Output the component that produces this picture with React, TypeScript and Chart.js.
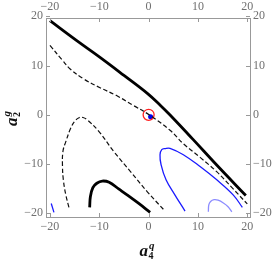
import React, { useEffect, useRef } from "react";
import { Chart, registerables } from "chart.js";

Chart.register(...registerables);

// axis ranges and tick values
const xRange = [-20.8, 20.55];
const yRange = [-20.75, 19.65];
const tickValues = [-20, -10, 0, 10, 20];

// thick black solid contour (upper)
const thickTopX = [-20, -14.5, -9.85, -5, -0.2, 2.4, 4.3, 9, 13.85, 19.7];
const thickTopY = [19.1, 15.0, 11.66, 8.0, 4.3, 1.9, 0, -5.0, -10.26, -16.4];

// thick black solid contour (lower arch)
const thickArchX = [-11.95, -11.8, -11.3, -10.5, -9.4, -8.0, -6.0, -4.3, -2.0, 0.3];
const thickArchY = [-18.8, -16.6, -14.8, -13.9, -13.45, -13.7, -15.1, -16.3, -18.0, -19.8];

// dashed contour (upper)
const dashTopX = [-20, -17.5, -15.9, -13.2, -9.85, -6.5, -3.1, 0.1, 4.4, 7.07, 10.5, 13.85, 17, 20];
const dashTopY = [14.1, 11.1, 9.3, 7.3, 5.5, 3.9, 1.9, 0.0, -3.2, -5.9, -8.7, -11.6, -14.9, -18.1];

// dashed contour (lower arch)
const dashArchX = [-16.15, -16.75, -17.26, -17.46, -17.36, -16.8, -15.8, -14.93, -14.1, -13.3, -12.4, -10.06, -7.02, -3.63, -0.26, 3.33];
const dashArchY = [-18.8, -16.4, -13.4, -10.4, -7.4, -5.5, -2.74, -1.26, -0.59, -0.55, -1.06, -3.4, -7.5, -11.57, -15.63, -19.55];

// blue contour (loop)
const blueLoopX = [7.38, 5.35, 3.53, 2.52, 2.31, 2.66, 3.33, 4.34, 7.04, 10.43, 13.81, 17.18, 19.0];
const blueLoopY = [-19.55, -16.3, -13.2, -10.1, -8.1, -7.07, -6.85, -6.8, -8.1, -10.5, -13.2, -16.3, -18.8];

// blue contour (corner)
const blueCornerX = [-19.74, -19.19];
const blueCornerY = [-18.0, -19.8];

// light blue contour
const lightLoopX = [12.11, 12.2, 12.56, 13.27, 14.08, 15.15, 16.1, 16.86];
const lightLoopY = [-19.7, -18.3, -17.6, -17.24, -17.34, -17.9, -18.66, -19.7];

// markers
const redCircle = [{ x: 0, y: 0 }];
const bluePoint = [{ x: 0.4, y: -0.4 }];

const pts = (xs: number[], ys: number[]) => xs.map((x, i) => ({ x, y: ys[i] }));

const GRAY = "#999999";
const LABEL = "#707070";
const FONT = '"Liberation Serif", "Times New Roman", serif';

function drawTitle(ctx: CanvasRenderingContext2D, base: string, sub: string, sup: string) {
  ctx.font = `bold italic 17px ${FONT}`;
  const wa = ctx.measureText(base).width;
  ctx.font = `bold 10px ${FONT}`;
  const ws = ctx.measureText(sub).width;
  ctx.font = `bold italic 11px ${FONT}`;
  const wp = ctx.measureText(sup).width;
  const total = wa + Math.max(ws, wp) + 1;
  const x0 = -total / 2;
  ctx.fillStyle = "#111";
  ctx.textBaseline = "alphabetic";
  ctx.textAlign = "left";
  ctx.font = `bold italic 17px ${FONT}`;
  ctx.fillText(base, x0, 0);
  ctx.font = `bold 10px ${FONT}`;
  ctx.fillText(sub, x0 + wa + 0.5, 3);
  ctx.font = `bold italic 11px ${FONT}`;
  ctx.fillText(sup, x0 + wa + 1, -7);
}

const framePlugin = {
  id: "framePlugin",
  afterDraw(chart: any) {
    const { ctx, chartArea } = chart;
    const xs = chart.scales.x;
    const ys = chart.scales.y;
    ctx.save();
    ctx.strokeStyle = GRAY;
    ctx.lineWidth = 1;
    const L = 4;
    tickValues.forEach((v) => {
      const px = Math.round(xs.getPixelForValue(v)) + 0.5;
      const py = Math.round(ys.getPixelForValue(v)) + 0.5;
      ctx.beginPath();
      ctx.moveTo(px, chartArea.bottom);
      ctx.lineTo(px, chartArea.bottom - L);
      ctx.moveTo(px, chartArea.top);
      ctx.lineTo(px, chartArea.top + L);
      ctx.moveTo(chartArea.left, py);
      ctx.lineTo(chartArea.left + L, py);
      ctx.moveTo(chartArea.right, py);
      ctx.lineTo(chartArea.right - L, py);
      ctx.stroke();
    });
    ctx.restore();

    ctx.save();
    ctx.translate((chartArea.left + chartArea.right) / 2 - 1, 256);
    drawTitle(ctx, "a", "4", "q");
    ctx.restore();

    ctx.save();
    ctx.translate(17, (chartArea.top + chartArea.bottom) / 2 + 1);
    ctx.rotate(-Math.PI / 2);
    drawTitle(ctx, "a", "2", "g");
    ctx.restore();
  },
};

const fmt = (v: any) => {
  const n = Number(v);
  return n < 0 ? "\u2212" + Math.abs(n) : String(n);
};

function axis(position: string, min: number, max: number, size: number, padding: number) {
  const horizontal = position === "top" || position === "bottom";
  return {
    type: "linear",
    position,
    min,
    max,
    afterBuildTicks: (scale: any) => {
      scale.ticks = tickValues.map((value) => ({ value }));
    },
    afterFit: (scale: any) => {
      if (horizontal) scale.height = size;
      else scale.width = size;
    },
    grid: { drawOnChartArea: false, drawTicks: false },
    border: { display: true, color: GRAY, width: 1 },
    ticks: {
      color: LABEL,
      font: { family: FONT, size: 12 },
      padding,
      maxRotation: 0,
      autoSkip: false,
      callback: (v: any) => fmt(v),
    },
  };
}

export default function App() {
  const ref = useRef<HTMLCanvasElement | null>(null);

  useEffect(() => {
    if (!ref.current) return;
    const line = (data: any[], color: string, width: number, dash: number[] = []) => ({
      data,
      showLine: true,
      borderColor: color,
      borderWidth: width,
      borderDash: dash,
      pointRadius: 0,
      tension: 0.4,
      fill: false,
      xAxisID: "x",
      yAxisID: "y",
    });
    const chart = new Chart(ref.current, {
      type: "scatter",
      data: {
        datasets: [
          line(pts(dashTopX, dashTopY), "#111", 1.2, [4.5, 2.5]),
          line(pts(dashArchX, dashArchY), "#111", 1.2, [4.5, 2.5]),
          line(pts(blueLoopX, blueLoopY), "#1a1aff", 1.3),
          line(pts(blueCornerX, blueCornerY), "#1a1aff", 1.3),
          line(pts(lightLoopX, lightLoopY), "#8c8cff", 1.3),
          line(pts(thickTopX, thickTopY), "#000", 2.8),
          line(pts(thickArchX, thickArchY), "#000", 2.8),
          {
            data: redCircle,
            pointRadius: 5.5,
            pointBorderColor: "#ff2020",
            pointBackgroundColor: "rgba(0,0,0,0)",
            pointBorderWidth: 1.3,
            xAxisID: "x",
            yAxisID: "y",
          },
          {
            data: bluePoint,
            pointRadius: 2.5,
            pointBorderColor: "#0000ee",
            pointBackgroundColor: "#0000ee",
            pointBorderWidth: 0,
            xAxisID: "x",
            yAxisID: "y",
          },
        ] as any,
      },
      options: {
        animation: false,
        responsive: true,
        maintainAspectRatio: false,
        layout: { padding: 0 },
        plugins: { legend: { display: false }, tooltip: { enabled: false } },
        scales: {
          x: axis("bottom", xRange[0], xRange[1], 43, 3),
          x2: axis("top", xRange[0], xRange[1], 18, 4),
          y: axis("left", yRange[0], yRange[1], 46, 3),
          y2: axis("right", yRange[0], yRange[1], 24, 3),
        } as any,
      },
      plugins: [framePlugin],
    });
    return () => chart.destroy();
  }, []);

  return (
    <div style={{ position: "fixed", left: 0, top: 0, width: 274, height: 260, background: "#fff" }}>
      <canvas ref={ref} />
    </div>
  );
}
